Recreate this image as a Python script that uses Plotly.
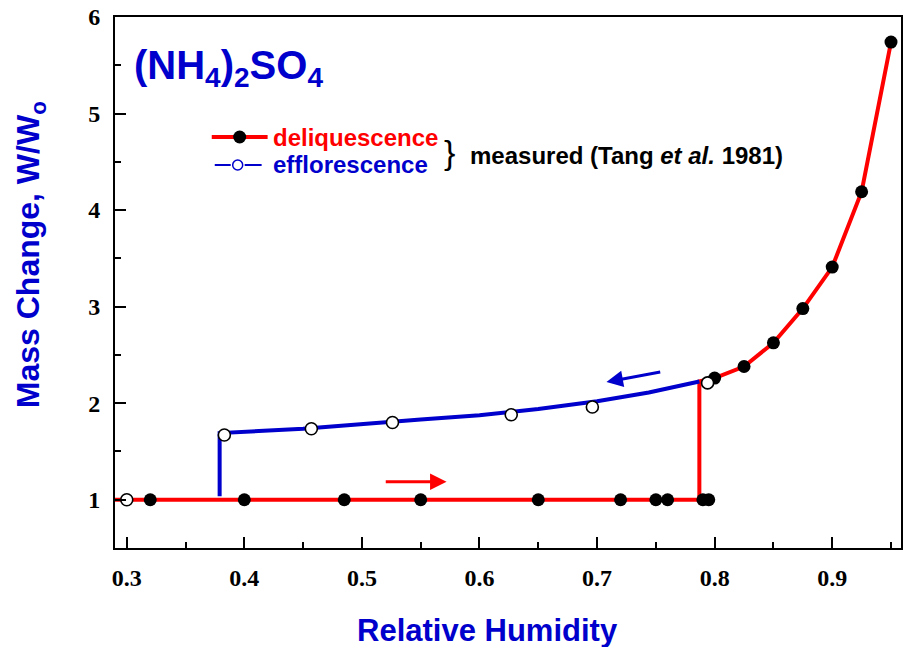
import plotly.graph_objects as go

# ---- measured data (Tang et al. 1981) ----
deliq_rh = [0.32, 0.40, 0.485, 0.55, 0.65, 0.72, 0.75, 0.76, 0.79, 0.795,
            0.80, 0.825, 0.85, 0.875, 0.90, 0.925, 0.95]
deliq_w = [1.0, 1.0, 1.0, 1.0, 1.0, 1.0, 1.0, 1.0, 1.0, 1.0,
           2.26, 2.38, 2.625, 2.98, 3.41, 4.19, 5.74]

efflo_rh = [0.30, 0.383, 0.457, 0.526, 0.627, 0.696, 0.794]
efflo_w = [1.0, 1.67, 1.735, 1.80, 1.88, 1.96, 2.21]

# ---- model curves ----
deliq_curve_rh = [0.29, 0.787, 0.787, 0.80, 0.825, 0.85, 0.875, 0.90, 0.925, 0.95]
deliq_curve_w = [1.0, 1.0, 2.225, 2.26, 2.38, 2.625, 2.98, 3.41, 4.19, 5.74]

efflo_curve_rh = [0.379, 0.379, 0.45, 0.498, 0.55, 0.60, 0.627, 0.65, 0.70, 0.744, 0.787]
efflo_curve_w = [1.035, 1.69, 1.735, 1.776, 1.83, 1.875, 1.908, 1.94, 2.02, 2.11, 2.225]

# direction arrows: (tail, head)
arrow_up = ((0.519, 1.186), (0.572, 1.186))
arrow_down = ((0.755, 2.325), (0.708, 2.22))

x_ticks = [0.3, 0.4, 0.5, 0.6, 0.7, 0.8, 0.9]
y_ticks = [1, 2, 3, 4, 5, 6]

RED = "#FF0000"
BLUE = "#0000CC"

fig = go.Figure()
fig.add_trace(go.Scatter(x=deliq_curve_rh, y=deliq_curve_w, mode="lines",
                         line=dict(color=RED, width=4), showlegend=False))
fig.add_trace(go.Scatter(x=efflo_curve_rh, y=efflo_curve_w, mode="lines",
                         line=dict(color=BLUE, width=4), showlegend=False))
fig.add_trace(go.Scatter(x=deliq_rh, y=deliq_w, mode="markers",
                         marker=dict(color="black", size=13, line=dict(width=0)),
                         showlegend=False))
fig.add_trace(go.Scatter(x=efflo_rh, y=efflo_w, mode="markers",
                         marker=dict(color="white", size=12, line=dict(color="black", width=1.6)),
                         showlegend=False))

ann = []
for (tail, head), col in ((arrow_up, RED), (arrow_down, BLUE)):
    ann.append(dict(x=head[0], y=head[1], ax=tail[0], ay=tail[1], xref="x", yref="y",
                    axref="x", ayref="y", showarrow=True, arrowhead=2, arrowsize=1.1,
                    arrowwidth=3, arrowcolor=col, text=""))

AR = "Arial, Liberation Sans, sans-serif"


def px(p):
    return (p - 115) / 788


def py(p):
    return (548 - p) / 531


ann += [
    dict(x=px(132), y=py(68), xref="paper", yref="paper", xanchor="left", yanchor="middle",
         text="(NH<sub>4</sub>)<sub>2</sub>SO<sub>4</sub>", showarrow=False,
         font=dict(family=AR, size=40, color=BLUE, weight="bold")),
    dict(x=px(271), y=py(137), xref="paper", yref="paper", xanchor="left", yanchor="middle",
         text="deliquescence", showarrow=False,
         font=dict(family=AR, size=24, color=RED, weight="bold")),
    dict(x=px(271), y=py(164), xref="paper", yref="paper", xanchor="left", yanchor="middle",
         text="efflorescence", showarrow=False,
         font=dict(family=AR, size=24, color=BLUE, weight="bold")),
    dict(x=px(450), y=py(152), xref="paper", yref="paper",
         xanchor="center", yanchor="middle", text="}", showarrow=False,
         font=dict(family=AR, size=34, color="black")),
    dict(x=px(469), y=py(156), xref="paper", yref="paper",
         xanchor="left", yanchor="middle",
         text="measured (Tang <i>et al.</i> 1981)", showarrow=False,
         font=dict(family=AR, size=24, color="black", weight="bold")),
    dict(x=px(488), y=py(630), xref="paper", yref="paper",
         xanchor="center", yanchor="middle", text="Relative Humidity", showarrow=False,
         font=dict(family=AR, size=31, color=BLUE, weight="bold")),
    dict(x=px(30), y=py(255), xref="paper", yref="paper",
         xanchor="center", yanchor="middle", text="Mass Change, W/W<sub>o</sub>",
         textangle=-90, showarrow=False,
         font=dict(family=AR, size=32, color=BLUE, weight="bold")),
]

shapes = [
    dict(type="line", xref="paper", yref="paper", x0=px(212), x1=px(268), y0=py(137), y1=py(137),
         line=dict(color=RED, width=4)),
    dict(type="circle", xref="paper", yref="paper", xsizemode="pixel", ysizemode="pixel",
         xanchor=px(240), yanchor=py(137), x0=-6.5, x1=6.5, y0=-6.5, y1=6.5,
         fillcolor="black", line=dict(width=0)),
    dict(type="line", xref="paper", yref="paper", x0=px(215), x1=px(231), y0=py(165), y1=py(165),
         line=dict(color=BLUE, width=2)),
    dict(type="line", xref="paper", yref="paper", x0=px(245), x1=px(262), y0=py(165), y1=py(165),
         line=dict(color=BLUE, width=2)),
    dict(type="circle", xref="paper", yref="paper", xsizemode="pixel", ysizemode="pixel",
         xanchor=px(238), yanchor=py(165), x0=-5, x1=5, y0=-5, y1=5,
         fillcolor="white", line=dict(color=BLUE, width=1.5)),
]

TICKFONT = dict(family="Liberation Serif, Times New Roman, serif", size=24, color="black", weight="bold")

fig.update_layout(
    width=906, height=647,
    margin=dict(l=115, r=3, t=17, b=99),
    paper_bgcolor="white", plot_bgcolor="white",
    annotations=ann, shapes=shapes,
    xaxis=dict(range=[0.290, 0.9585], tickvals=x_ticks, ticktext=[f"{v:.1f}" for v in x_ticks],
               ticks="inside", ticklen=11, tickwidth=1.5, tickcolor="black",
               minor=dict(dtick=0.05, tick0=0.3, ticks="inside", ticklen=6, tickwidth=1.5, tickcolor="black"),
               showline=True, linecolor="black", linewidth=2, mirror=True,
               showgrid=False, zeroline=False, tickfont=TICKFONT, ticklabelstandoff=7),
    yaxis=dict(range=[0.5, 6.0], tickvals=y_ticks, ticktext=[str(v) for v in y_ticks],
               ticks="inside", ticklen=11, tickwidth=1.5, tickcolor="black",
               minor=dict(dtick=0.5, tick0=0.5, ticks="inside", ticklen=6, tickwidth=1.5, tickcolor="black"),
               showline=True, linecolor="black", linewidth=2, mirror=True,
               showgrid=False, zeroline=False, tickfont=TICKFONT, ticklabelstandoff=8),
)

fig.write_html("out.html")
